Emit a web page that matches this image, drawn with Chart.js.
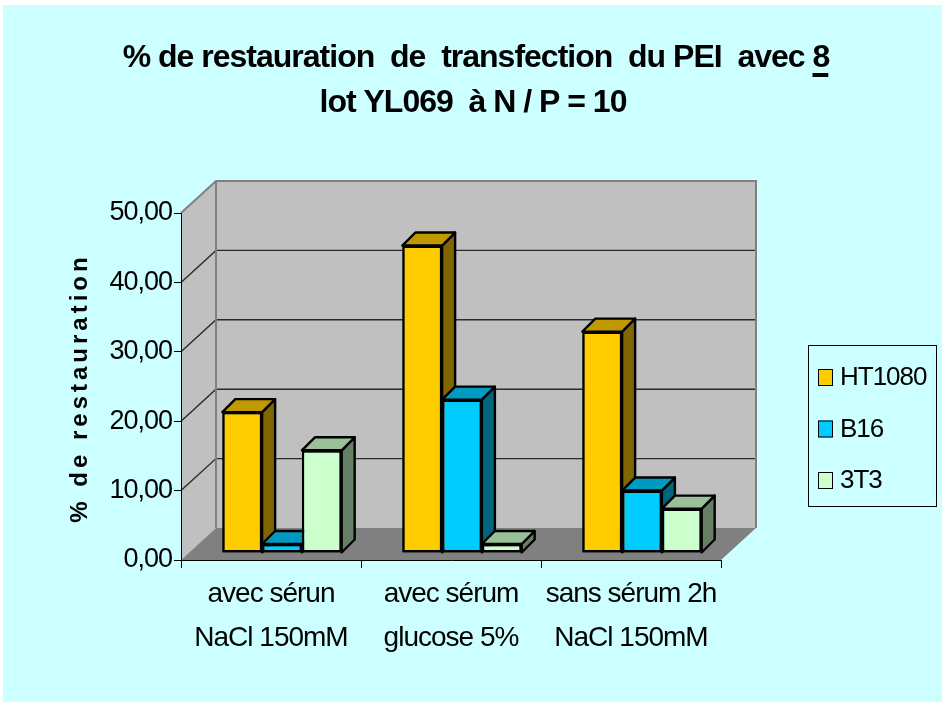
<!DOCTYPE html>
<html>
<head>
<meta charset="utf-8">
<script src="https://cdn.jsdelivr.net/npm/chart.js@4.4.1/dist/chart.umd.min.js"></script>
<style>
  html, body { margin: 0; padding: 0; background: #ffffff; }
  #wrap { width: 942px; height: 702px; }
</style>
</head>
<body>
<div id="wrap"><canvas id="myChart" width="942" height="702"></canvas></div>
<script>
// categories, one label per group (two lines each)
const categories = [
    ['avec sérun', 'NaCl 150mM'],
    ['avec sérum', 'glucose 5%'],
    ['sans sérum 2h', 'NaCl 150mM']
];
const seriesNames = ['HT1080', 'B16', '3T3'];
const ht1080Values = [20.3, 44.3, 31.9];
const b16Values = [1.3, 22.1, 9.0];
const t3t3Values = [14.8, 1.3, 6.4];
const yMax = 50;
const yStep = 10;

const titleLine1 = '% de restauration  de  transfection  du PEI  avec ';
const titleUnderlined = '8';
const titleLine2 = 'lot YL069  à N / P = 10';
const yTitle = '% de restauration';

// face colours: front, top, side
const faces = [
    ['#ffcc00', '#c09900', '#806600'],
    ['#00ccff', '#0099c0', '#006680'],
    ['#ccffcc', '#99c099', '#668066']
];

const FONT = '"Liberation Sans", Arial, sans-serif';
const WALL = { x: 35, y: -32 };      // depth of the box
const BAR_DEPTH = 13;                // depth of each column
const BAR_SHIFT = { x: 11, y: -7 };  // columns sit a little behind the front plane

function poly(ctx, pts, fill, stroke, lw) {
    ctx.beginPath();
    ctx.moveTo(pts[0][0], pts[0][1]);
    for (let i = 1; i < pts.length; i++) ctx.lineTo(pts[i][0], pts[i][1]);
    ctx.closePath();
    if (fill) { ctx.fillStyle = fill; ctx.fill(); }
    if (stroke) { ctx.strokeStyle = stroke; ctx.lineWidth = lw; ctx.stroke(); }
}

const box3d = {
    id: 'box3d',
    beforeDraw(chart) {
        const ctx = chart.ctx;
        const a = chart.chartArea;
        const ys = chart.scales.y;
        ctx.save();
        ctx.fillStyle = '#ffffff';
        ctx.fillRect(0, 0, chart.width, chart.height);
        ctx.fillStyle = '#ccffff';
        ctx.fillRect(3, 5, chart.width - 3, chart.height - 5);

        const L = a.left, R = a.right, T = a.top, B = a.bottom;
        const dx = WALL.x, dy = WALL.y;
        // back wall, side wall, floor
        poly(ctx, [[L + dx, T + dy], [R + dx, T + dy], [R + dx, B + dy], [L + dx, B + dy]], '#c0c0c0');
        poly(ctx, [[L, T], [L + dx, T + dy], [L + dx, B + dy], [L, B]], '#c0c0c0');
        poly(ctx, [[L, B], [L + dx, B + dy], [R + dx, B + dy], [R, B]], '#808080');

        // grid lines on the walls
        ctx.lineWidth = 1.4;
        ctx.strokeStyle = '#2a2a2a';
        for (let v = yStep; v < yMax; v += yStep) {
            const y = ys.getPixelForValue(v);
            ctx.beginPath();
            ctx.moveTo(L, y);
            ctx.lineTo(L + dx, y + dy);
            ctx.lineTo(R + dx, y + dy);
            ctx.stroke();
        }
        // wall edges
        ctx.strokeStyle = '#808080';
        ctx.lineWidth = 2;
        ctx.beginPath();
        ctx.moveTo(L, T);
        ctx.lineTo(L + dx, T + dy);
        ctx.lineTo(R + dx, T + dy);
        ctx.lineTo(R + dx, B + dy);
        ctx.moveTo(L + dx, T + dy);
        ctx.lineTo(L + dx, B + dy);
        ctx.stroke();
        ctx.restore();
        // axis labels are set tight
        ctx.letterSpacing = '-1px';
    },
    beforeDatasetsDraw(chart) {
        chart.ctx.save();
        chart.ctx.translate(BAR_SHIFT.x, BAR_SHIFT.y);
    },
    afterDatasetsDraw(chart) {
        const ctx = chart.ctx;
        const d = BAR_DEPTH;
        const metas = chart.data.datasets.map((ds, i) => chart.getDatasetMeta(i));
        // paint group by group, left to right, so each column covers the side of its neighbour
        for (let j = 0; j < categories.length; j++) {
            metas.forEach((meta, i) => {
                const el = meta.data[j];
                const p = el.getProps(['x', 'y', 'base', 'width'], true);
                const l = p.x - p.width / 2, r = p.x + p.width / 2;
                ctx.save();
                ctx.lineJoin = 'round';
                poly(ctx, [[r, p.y], [r + d, p.y - d], [r + d, p.base - d], [r, p.base]], faces[i][2], '#000', 2.4);
                poly(ctx, [[l, p.y], [l + d, p.y - d], [r + d, p.y - d], [r, p.y]], faces[i][1], '#000', 2.4);
                ctx.restore();
                el.draw(ctx);
            });
        }
        ctx.restore();
    },
    afterDraw(chart) {
        const ctx = chart.ctx;
        ctx.save();
        ctx.fillStyle = '#000';

        // title, two lines, the last figure underlined
        ctx.font = 'bold 32px ' + FONT;
        ctx.letterSpacing = '-1px';
        ctx.textBaseline = 'alphabetic';
        ctx.textAlign = 'left';
        const w1 = ctx.measureText(titleLine1).width;
        const w8 = ctx.measureText(titleUnderlined).width;
        const x1 = 476 - (w1 + w8) / 2;
        ctx.fillText(titleLine1, x1, 67);
        ctx.fillText(titleUnderlined, x1 + w1, 67);
        ctx.fillRect(x1 + w1, 73, w8 - 1, 4);
        ctx.textAlign = 'center';
        ctx.fillText(titleLine2, 473, 112);

        // y axis title
        ctx.save();
        ctx.translate(80, 388);
        ctx.rotate(-Math.PI / 2);
        ctx.font = 'bold 24px ' + FONT;
        ctx.letterSpacing = '4px';
        ctx.textAlign = 'center';
        ctx.textBaseline = 'middle';
        ctx.fillText(yTitle, 0, 0);
        ctx.restore();

        // legend
        ctx.lineWidth = 1;
        ctx.strokeStyle = '#000';
        ctx.strokeRect(808.5, 345.5, 128, 161);
        ctx.font = '26px ' + FONT;
        ctx.letterSpacing = '-1px';
        ctx.textAlign = 'left';
        ctx.textBaseline = 'middle';
        chart.data.datasets.forEach((ds, i) => {
            const cy = 377 + i * 51.5;
            ctx.fillStyle = ds.backgroundColor;
            ctx.fillRect(818, cy - 8, 15, 17);
            ctx.strokeRect(818.5, cy - 7.5, 14, 16);
            ctx.fillStyle = '#000';
            ctx.fillText(ds.label, 840, cy + 1);
        });
        ctx.restore();
        ctx.letterSpacing = '0px';
    }
};

const data = {
    labels: categories,
    datasets: [ht1080Values, b16Values, t3t3Values].map((vals, i) => ({
        label: seriesNames[i],
        data: vals,
        backgroundColor: faces[i][0],
        borderColor: '#000',
        borderWidth: 2.4,
        borderSkipped: false,
        clip: false,
        categoryPercentage: 0.663,
        barPercentage: 1
    }))
};

const config = {
    type: 'bar',
    data: data,
    options: {
        responsive: false,
        animation: false,
        events: [],
        layout: { padding: { top: 213, left: 100, right: 221, bottom: 42 } },
        plugins: {
            legend: { display: false },
            title: { display: false },
            tooltip: { enabled: false }
        },
        scales: {
            x: {
                afterFit(scale) { scale.height = 100; },
                border: { display: true, color: '#000', width: 1 },
                grid: { drawOnChartArea: false, drawTicks: true, tickLength: 8, color: '#000', offset: true },
                ticks: {
                    color: '#000',
                    padding: 4,
                    maxRotation: 0,
                    autoSkip: false,
                    font: { family: FONT, size: 28, lineHeight: '44px' }
                }
            },
            y: {
                min: 0,
                max: yMax,
                afterFit(scale) { scale.width = 81; },
                border: { display: true, color: '#000', width: 1 },
                grid: { drawOnChartArea: false, drawTicks: true, tickLength: 7, color: '#000' },
                ticks: {
                    stepSize: yStep,
                    color: '#000',
                    padding: 2,
                    font: { family: FONT, size: 27 },
                    callback: v => v.toFixed(2).replace('.', ',')
                }
            }
        }
    },
    plugins: [box3d]
};

Chart.defaults.color = '#000';

const ctx = document.getElementById('myChart');
const chart = new Chart(ctx, config);
</script>
</body>
</html>
